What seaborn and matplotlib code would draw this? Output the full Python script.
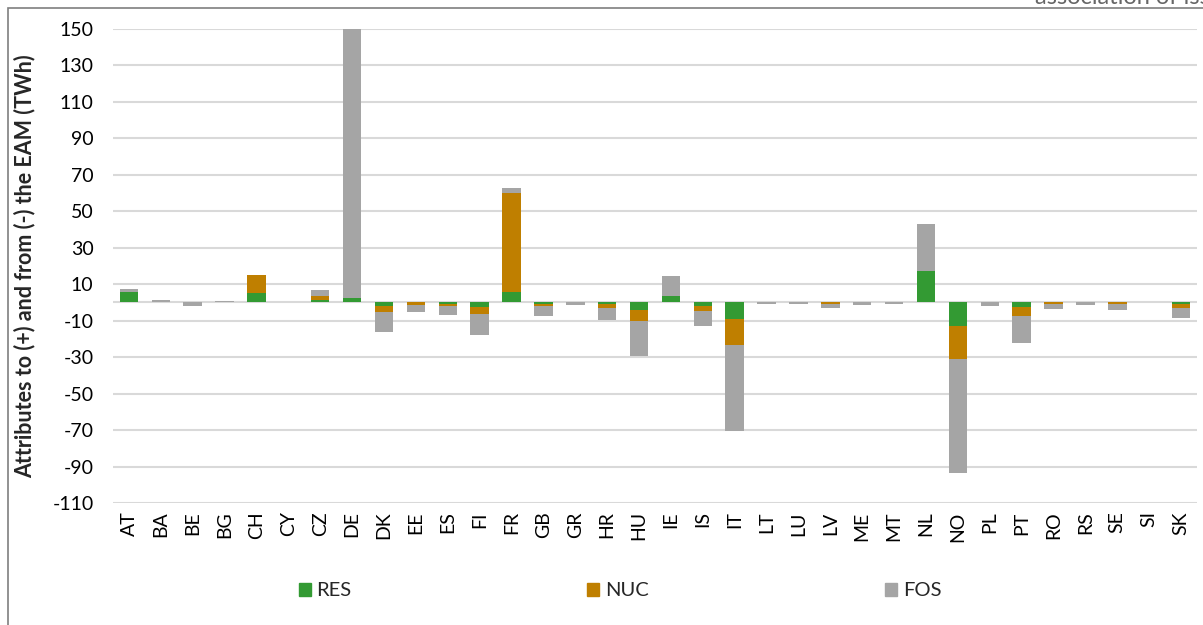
import numpy as np
import pandas as pd
import matplotlib
matplotlib.use("Agg")
import matplotlib.pyplot as plt
import matplotlib.patches as mpatches
import seaborn as sns

# Data (TWh)
countries = ["AT", "BA", "BE", "BG", "CH", "CY", "CZ", "DE", "DK", "EE", "ES", "FI",
             "FR", "GB", "GR", "HR", "HU", "IE", "IS", "IT", "LT", "LU", "LV", "ME",
             "MT", "NL", "NO", "PL", "PT", "RO", "RS", "SE", "SI", "SK"]
res = [5.5, 0, 0, 0, 5, 0, 1.5, 2.7, -2, 0, -1, -2.5,
       6, -1, 0, -1, -4, 3.3, -2, -9.3, 0, 0, 0, 0,
       0, 17.4, -12.8, 0, -2.5, 0, 0, 0, 0, -1]
nuc = [0, 0, 0, 0, 10, 0, 2.2, 0, -3.5, -1.5, -1.1, -3.7,
       54.3, -1.1, 0, -2, -6.2, 0, -2.7, -13.9, 0, 0, -1, 0,
       0, 0, -18.3, 0, -5, -1, 0, -1, 0, -2]
fos = [2, 1.5, -1.8, 1, 0, 0, 3.3, 147.3, -10.5, -3.5, -5, -11.7,
       2.7, -5.4, -1.5, -6.4, -19, 11.3, -8.2, -47.2, -1, -1, -1.8, -1.6,
       -1, 25.6, -62.5, -2, -14.8, -2.6, -1.5, -3.2, 0, -5.5]

c_res = "#339a33"
c_nuc = "#bf7f00"
c_fos = "#a5a5a5"

df = pd.DataFrame({"country": countries, "RES": res, "NUC": nuc, "FOS": fos})
df["l1"] = df["RES"]
df["l2"] = df["RES"] + df["NUC"]
df["l3"] = df["RES"] + df["NUC"] + df["FOS"]

sns.set_style("white")
plt.rcParams["font.family"] = ["Lato", "DejaVu Sans"]
plt.rcParams["axes.unicode_minus"] = False

fig = plt.figure(figsize=(12.03, 6.25), dpi=100)
ax = fig.add_axes([113 / 1203, 1 - 503 / 625, 1084 / 1203, 474 / 625])

# stacked bars: every component of a country has the same sign, so overlay cumulative sums
for col, colour in [("l3", c_fos), ("l2", c_nuc), ("l1", c_res)]:
    sns.barplot(data=df, x="country", y=col, color=colour, saturation=1, width=0.58,
                linewidth=0, edgecolor="none", ax=ax, zorder=3)

ax.set_ylim(-110, 150)
ax.set_xlim(-0.5, len(countries) - 0.5)
ax.set_yticks(np.arange(-110, 151, 20))
ax.yaxis.grid(True, color="#d9d9d9", linewidth=1.5, zorder=0)
ax.axhline(0, color="#d9d9d9", linewidth=1.5, zorder=1)
ax.set_axisbelow(True)
for s in ax.spines.values():
    s.set_visible(False)
ax.tick_params(axis="both", length=0, labelsize=14, colors="black")
ax.tick_params(axis="y", pad=14)
ax.tick_params(axis="x", pad=6)
plt.setp(ax.get_xticklabels(), rotation=90)
ax.set_xlabel("")
ax.set_ylabel("Attributes to (+) and from (-) the EAM (TWh)", fontsize=15.5,
              fontweight="bold", labelpad=12)

handles = [mpatches.Patch(color=c_res, label="RES"),
           mpatches.Patch(color=c_nuc, label="NUC"),
           mpatches.Patch(color=c_fos, label="FOS")]
fig.legend(handles=handles, loc="center", bbox_to_anchor=(620 / 1203, 1 - 591 / 625),
           ncol=3, frameon=False, fontsize=14.5, handlelength=0.6, handleheight=0.6,
           handletextpad=0.3, columnspacing=11.7)

# outer chart border (cropped at right and bottom)
fig.add_artist(mpatches.Rectangle((8 / 1203, -0.1), 1.2, 1 - 8 / 625 + 0.1,
                                  transform=fig.transFigure, fill=False,
                                  edgecolor="#7f7f7f", linewidth=1.2))
fig.text(1035 / 1203, 1 + 3 / 625, "association of issuing bodies", color="#666666",
         fontsize=17, va="center", ha="left")

fig.savefig("out.png", dpi=100)
